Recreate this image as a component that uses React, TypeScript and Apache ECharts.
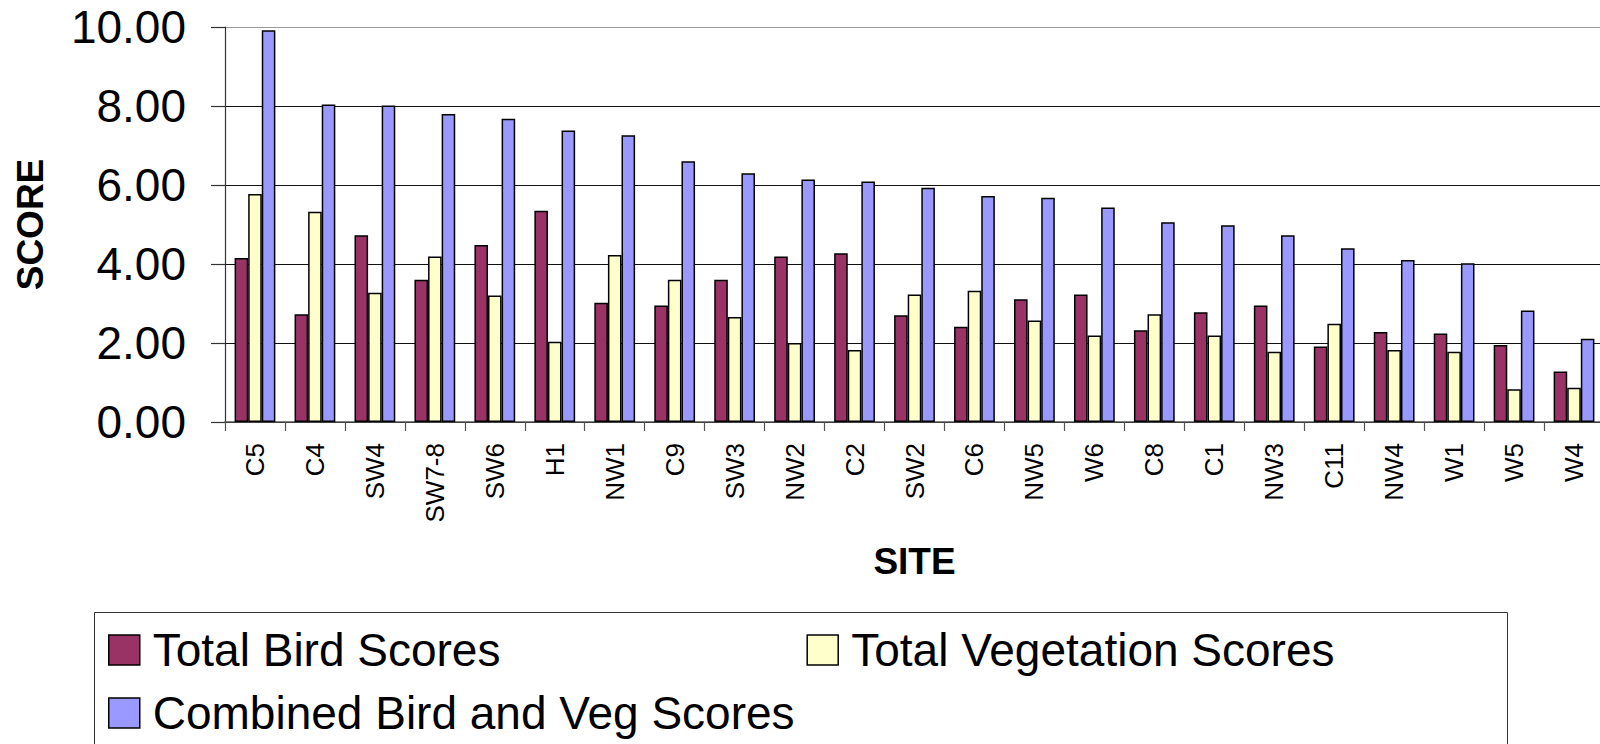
import React, { useEffect, useRef } from "react";
import * as echarts from "echarts";

const sites = ["C5", "C4", "SW4", "SW7-8", "SW6", "H1", "NW1", "C9", "SW3", "NW2", "C2", "SW2", "C6", "NW5", "W6", "C8", "C1", "NW3", "C11", "NW4", "W1", "W5", "W4"];
const birdScores = [4.15, 2.73, 4.73, 3.6, 4.48, 5.35, 3.02, 2.95, 3.6, 4.19, 4.27, 2.7, 2.41, 3.11, 3.23, 2.32, 2.78, 2.95, 1.91, 2.28, 2.24, 1.95, 1.28];
const vegScores = [5.77, 5.32, 3.27, 4.19, 3.2, 2.03, 4.23, 3.6, 2.66, 2.0, 1.82, 3.23, 3.32, 2.57, 2.19, 2.73, 2.19, 1.78, 2.49, 1.82, 1.78, 0.83, 0.87];
const combinedScores = [9.92, 8.04, 8.01, 7.8, 7.68, 7.38, 7.26, 6.6, 6.3, 6.14, 6.09, 5.93, 5.72, 5.68, 5.43, 5.06, 4.98, 4.73, 4.4, 4.1, 4.02, 2.82, 2.11];
const seriesNames = ["Total Bird Scores", "Total Vegetation Scores", "Combined Bird and Veg Scores"];
const yMin = 0;
const yMax = 10;
const yInterval = 2;

const FONT = "'Liberation Sans', Arial, Helvetica, sans-serif";

export default function App() {
  const ref = useRef<HTMLDivElement>(null);
  useEffect(() => {
    if (!ref.current) return;
    const chart = echarts.init(ref.current, undefined, { renderer: "svg" });
    const colors = ["#993366", "#FFFFCC", "#9999FF"];
    const data = [birdScores, vegScores, combinedScores];
    const legendText = {
      fontFamily: FONT,
      fontSize: 46,
      color: "#000",
      lineHeight: 50,
      padding: [0, 0, 0, 8],
    };
    chart.setOption({
      animation: false,
      backgroundColor: "#fff",
      textStyle: { fontFamily: FONT },
      grid: {
        left: 225,
        right: -4,
        top: 27,
        bottom: 322,
        containLabel: false,
        outerBoundsMode: "none",
      },
      legend: [
        {
          data: [seriesNames[0], seriesNames[1]],
          left: 108,
          top: 625,
          padding: 0,
          orient: "horizontal",
          itemWidth: 31,
          itemHeight: 30,
          itemGap: 306,
          icon: "rect",
          itemStyle: { borderColor: "#000", borderWidth: 1.5 },
          textStyle: legendText,
          selectedMode: false,
        },
        {
          data: [seriesNames[2]],
          left: 108,
          top: 688,
          padding: 0,
          itemWidth: 31,
          itemHeight: 30,
          icon: "rect",
          itemStyle: { borderColor: "#000", borderWidth: 1.5 },
          textStyle: legendText,
          selectedMode: false,
        },
      ],
      graphic: [
        {
          type: "rect",
          shape: { x: 94.5, y: 612.5, width: 1413, height: 200 },
          style: { fill: "none", stroke: "#333", lineWidth: 1 },
          silent: true,
        },
      ],
      xAxis: {
        type: "category",
        data: sites,
        name: "SITE",
        nameLocation: "middle",
        nameGap: 121,
        nameTextStyle: { fontFamily: FONT, fontSize: 37, fontWeight: "bold", color: "#000" },
        axisLine: { show: true, lineStyle: { color: "#555", width: 1.5 } },
        axisTick: { show: true, length: 9, interval: 0, lineStyle: { color: "#555", width: 1.2 } },
        axisLabel: { rotate: 90, interval: 0, fontSize: 26, margin: 21, color: "#000", fontFamily: FONT },
        splitLine: { show: false },
      },
      yAxis: {
        type: "value",
        min: yMin,
        max: yMax,
        interval: yInterval,
        name: "SCORE",
        nameLocation: "middle",
        nameGap: 176,
        nameTextStyle: { fontFamily: FONT, fontSize: 37, fontWeight: "bold", color: "#000" },
        axisLine: { show: true, lineStyle: { color: "#333", width: 1.2 } },
        axisTick: { show: true, length: 14, lineStyle: { color: "#333", width: 1.2 } },
        axisLabel: {
          fontSize: 46,
          margin: 39,
          color: "#000",
          fontFamily: FONT,
          formatter: (v: number) => v.toFixed(2),
        },
        splitLine: {
          show: true,
          lineStyle: { color: ["#000", "#111", "#111", "#111", "#111", "#999"], width: 1.2 },
        },
      },
      series: seriesNames.map((name, i) => ({
        name,
        type: "bar",
        data: data[i],
        barGap: "0%",
        barCategoryGap: "32%",
        itemStyle: { color: colors[i], borderColor: "#000", borderWidth: 1.5 },
      })),
    });
    return () => chart.dispose();
  }, []);
  return (
    <div
      ref={ref}
      style={{ position: "absolute", left: 0, top: 0, width: 1600, height: 744 }}
    />
  );
}
